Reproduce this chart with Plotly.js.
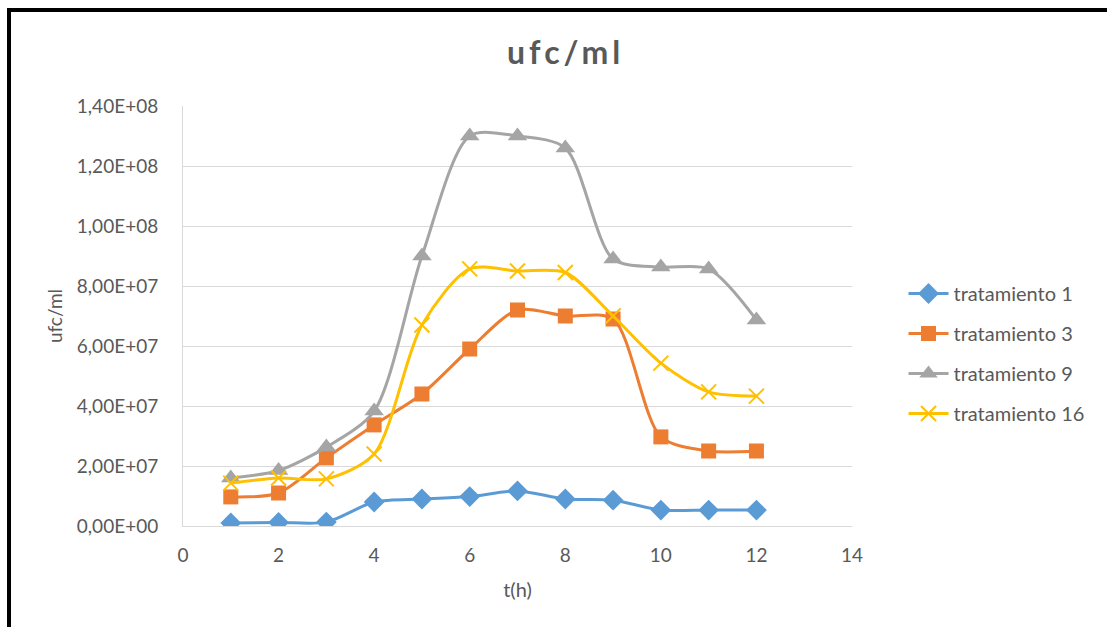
<!DOCTYPE html>
<html>
<head>
<meta charset="utf-8">
<script src="https://cdn.plot.ly/plotly-3.0.1.min.js"></script>
<style>
  html, body { margin: 0; padding: 0; background: #fff; }
  #wrap { position: relative; width: 1107px; height: 627px; overflow: hidden; }
  #chart { width: 1107px; height: 627px; }
  .bt { position: absolute; left: 7px; top: 8px; width: 1100px; height: 4px; background: #000; }
  .bl { position: absolute; left: 7px; top: 8px; width: 4px; height: 619px; background: #000; }
  .gtitle { letter-spacing: 4px; }
</style>
</head>
<body>
<div id="wrap">
  <div id="chart"></div>
  <div class="bt"></div>
  <div class="bl"></div>
</div>
<script>
const hours = [1, 2, 3, 4, 5, 6, 7, 8, 9, 10, 11, 12];
const trat1  = [1.0e6, 1.2e6, 1.3e6, 8.0e6, 9.0e6, 9.8e6, 1.17e7, 9.0e6, 8.6e6, 5.3e6, 5.3e6, 5.3e6];
const trat3  = [9.7e6, 1.1e7, 2.27e7, 3.37e7, 4.4e7, 5.9e7, 7.2e7, 7.0e7, 6.9e7, 2.97e7, 2.5e7, 2.5e7];
const trat9  = [1.6e7, 1.85e7, 2.63e7, 3.83e7, 9.0e7, 1.30e8, 1.30e8, 1.26e8, 8.9e7, 8.63e7, 8.57e7, 6.87e7];
const trat16 = [1.43e7, 1.6e7, 1.57e7, 2.4e7, 6.7e7, 8.57e7, 8.5e7, 8.45e7, 7.0e7, 5.43e7, 4.47e7, 4.33e7];
const seriesNames = ['tratamiento 1', 'tratamiento 3', 'tratamiento 9', 'tratamiento 16'];
const yTickVals = [0, 2e7, 4e7, 6e7, 8e7, 1e8, 1.2e8, 1.4e8];
const yTickText = ['0,00E+00', '2,00E+07', '4,00E+07', '6,00E+07', '8,00E+07', '1,00E+08', '1,20E+08', '1,40E+08'];
const xTickVals = [0, 2, 4, 6, 8, 10, 12, 14];

const FONT = 'Lato, "Open Sans", sans-serif';
const GREY = '#595959';

function mk(name, y, color, symbol, size, group, extra) {
  const m = Object.assign({ symbol: symbol, size: size, color: color }, extra || {});
  return {
    x: hours, y: y, name: name, type: 'scatter', mode: 'lines+markers',
    legendgroup: group,
    line: { color: color, width: 3, shape: 'spline', smoothing: 0.8 },
    marker: m
  };
}

const data = [
  mk(seriesNames[0], trat1, '#5B9BD5', 'diamond', 16, 'g1'),
  mk(seriesNames[1], trat3, '#ED7D31', 'square', 15, 'g2'),
  mk(seriesNames[2], trat9, '#A5A5A5', 'triangle-up', 17, 'g3'),
  mk(seriesNames[3], trat16, '#FFC000', 'x-thin', 15, 'g4', { line: { color: '#FFC000', width: 2 } })
];

const layout = {
  width: 1107, height: 627,
  paper_bgcolor: '#fff', plot_bgcolor: '#fff',
  margin: { l: 183, r: 255, t: 106, b: 101 },
  font: { family: FONT, color: GREY, size: 19 },
  title: {
    text: 'ufc/ml',
    font: { family: FONT, size: 32, color: GREY, weight: 'bold' },
    x: 0.572, xref: 'paper', xanchor: 'center',
    y: 55, yref: 'container', yanchor: 'middle'
  },
  xaxis: {
    range: [0, 14], tickvals: xTickVals, ticktext: xTickVals.map(String),
    showgrid: false, zeroline: false,
    showline: true, linecolor: '#d9d9d9', linewidth: 1,
    ticks: '', ticklabelstandoff: 12,
    tickfont: { size: 19, color: GREY, family: FONT },
    title: { text: 't(h)', font: { size: 20, color: GREY, family: FONT }, standoff: 18 },
    automargin: false, fixedrange: true
  },
  yaxis: {
    range: [0, 1.4e8], tickvals: yTickVals, ticktext: yTickText,
    showgrid: true, gridcolor: '#d9d9d9', gridwidth: 1,
    zeroline: false, showline: true, linecolor: '#d9d9d9', linewidth: 1,
    ticks: '', ticklabelstandoff: 20,
    tickfont: { size: 19, color: GREY, family: FONT },
    title: { text: 'ufc/ml', font: { size: 19, color: GREY, family: FONT }, standoff: 9 },
    automargin: false, fixedrange: true
  },
  showlegend: true,
  legend: {
    x: 1.077, xanchor: 'left', y: 0.6, yanchor: 'top',
    font: { size: 20, color: GREY, family: FONT },
    tracegroupgap: 11, bgcolor: 'rgba(0,0,0,0)', itemwidth: 40
  }
};

Plotly.newPlot('chart', data, layout, { displayModeBar: false, staticPlot: true });
</script>
</body>
</html>
